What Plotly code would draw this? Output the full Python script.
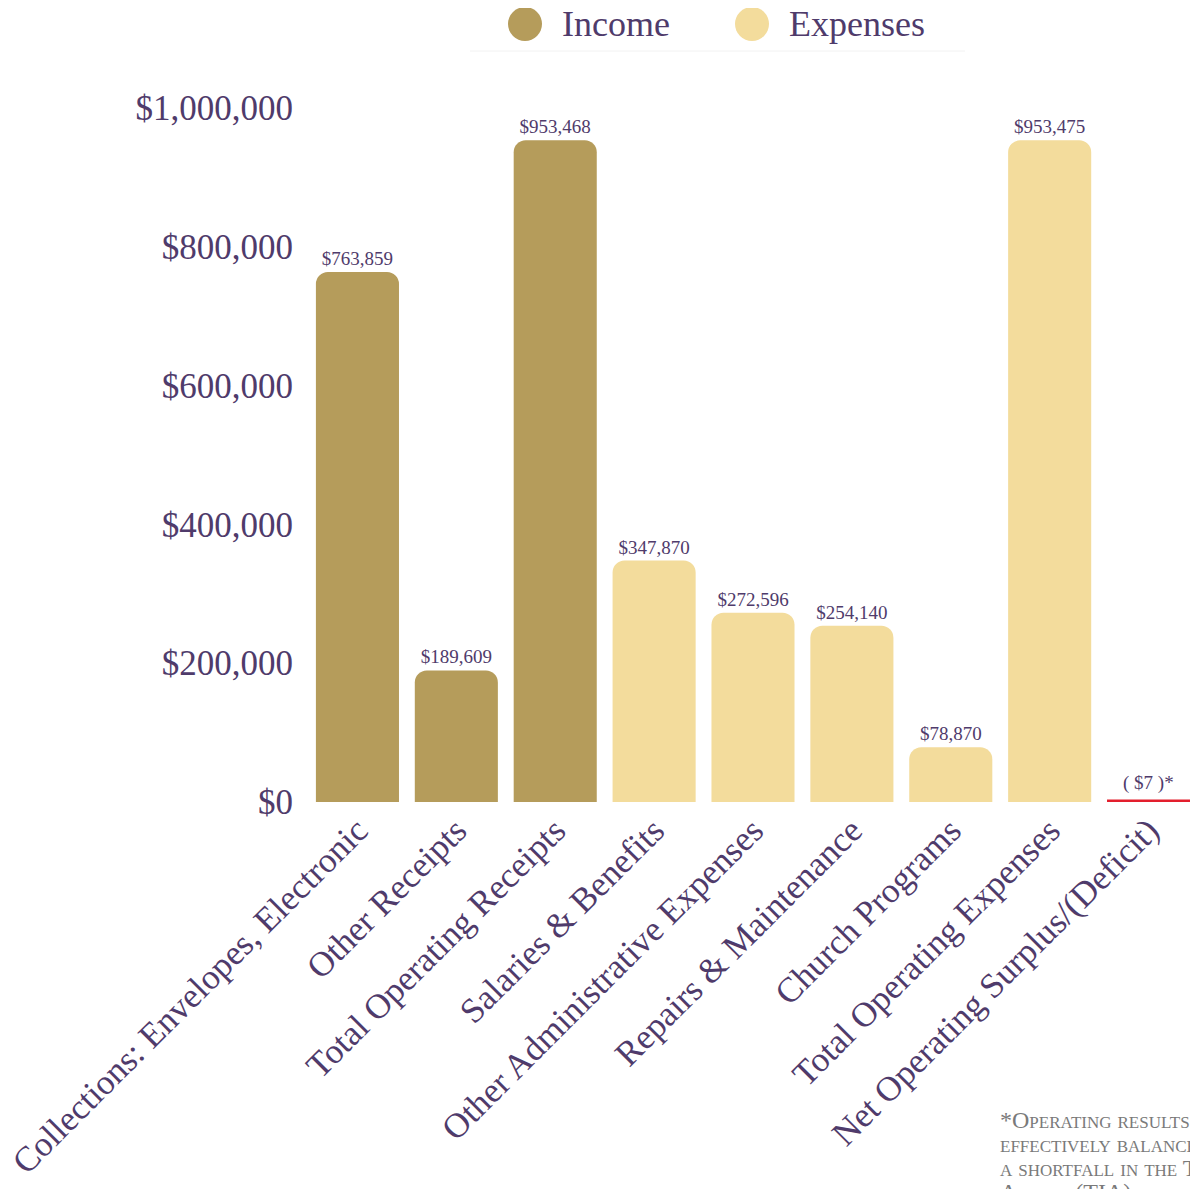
import plotly.graph_objects as go

income_cats = ["Collections: Envelopes, Electronic", "Other Receipts", "Total Operating Receipts"]
income_vals = [763859, 189609, 953468]
expense_cats = ["Salaries & Benefits", "Other Administrative Expenses", "Repairs & Maintenance",
                "Church Programs", "Total Operating Expenses"]
expense_vals = [347870, 272596, 254140, 78870, 953475]
net_cats = ["Net Operating Surplus/(Deficit)"]
net_vals = [-7]
net_labels = ["( $7 )*"]
ytick_vals = [0, 200000, 400000, 600000, 800000, 1000000]
ytick_text = ["$0", "$200,000", "$400,000", "$600,000", "$800,000", "$1,000,000"]
footnote_lines = ["*Operating results were", "effectively balanced, with",
                  "a shortfall in the Tithe", "Action (TIA) balance"]

INCOME = "#B59C5B"
EXPENSE = "#F3DC9C"
PURPLE = "#4F3B6B"
FONT = "Liberation Serif"

OFF = 8  # page body margin
W, H = 1198 - OFF, 1189 - OFF
L, R, T, B = 308 - OFF, 0, 108 - OFF, 1189 - 802
pw, ph = W - L - R, H - T - B


def px(x):
    return (x - OFF - L) / pw


def py(y):
    return (H - B - (y - OFF)) / ph


fig = go.Figure()
fig.add_trace(go.Bar(
    x=income_cats, y=income_vals, marker=dict(color=INCOME, line=dict(width=0), cornerradius=12),
    texttemplate="$%{y:,}", textposition="outside", cliponaxis=False,
    textfont=dict(family=FONT, size=19, color=PURPLE), width=0.84, showlegend=False))
fig.add_trace(go.Bar(
    x=expense_cats, y=expense_vals, marker=dict(color=EXPENSE, line=dict(width=0), cornerradius=12),
    texttemplate="$%{y:,}", textposition="outside", cliponaxis=False,
    textfont=dict(family=FONT, size=19, color=PURPLE), width=0.84, showlegend=False))
fig.add_trace(go.Bar(
    x=net_cats, y=net_vals, marker=dict(color="#E31E2D", line=dict(width=5, color="#E31E2D")),
    cliponaxis=False, width=0.84, showlegend=False, hoverinfo="skip"))

for c, v, t in zip(net_cats, net_vals, net_labels):
    fig.add_annotation(x=c, y=0, text=t, showarrow=False, yanchor="bottom", yshift=6,
                       font=dict(family=FONT, size=19, color=PURPLE))

# custom legend
legend_items = [("Income", INCOME, 525, 560), ("Expenses", EXPENSE, 752, 787)]
for name, col, cx, tx in legend_items:
    fig.add_shape(type="circle", xref="paper", yref="paper",
                  x0=px(cx - 17), x1=px(cx + 17), y0=py(24 + 17), y1=py(24 - 17),
                  fillcolor=col, line=dict(width=0))
    fig.add_annotation(xref="paper", yref="paper", x=px(tx), y=py(24), text=name,
                       showarrow=False, xanchor="left", yanchor="middle",
                       font=dict(family=FONT, size=36, color=PURPLE))
fig.add_shape(type="line", xref="paper", yref="paper", x0=px(470), x1=px(965),
              y0=py(51), y1=py(51), line=dict(color="#F2F2F2", width=1))

for i, line in enumerate(footnote_lines):
    fig.add_annotation(xref="paper", yref="paper", x=px(998), y=py(1120 + 24 * i),
                       xanchor="left", yanchor="middle", align="left", showarrow=False,
                       text=line,
                       font=dict(family=FONT, size=24, color="#7A7A7A", variant="small-caps"))

fig.update_layout(
    width=W, height=H, margin=dict(l=L, r=R, t=T, b=B, autoexpand=False),
    plot_bgcolor="white", paper_bgcolor="white", barmode="overlay",
    xaxis=dict(categoryorder="array", categoryarray=income_cats + expense_cats + net_cats,
               tickangle=-45, tickfont=dict(family=FONT, size=35, color=PURPLE),
               showgrid=False, showline=False, zeroline=False, ticks=""),
    yaxis=dict(range=[0, 1000000], tickvals=ytick_vals, ticktext=ytick_text,
               tickfont=dict(family=FONT, size=35, color=PURPLE), showgrid=False,
               zeroline=False, showline=False, ticklabelstandoff=14),
)

fig.write_html("out.html")
